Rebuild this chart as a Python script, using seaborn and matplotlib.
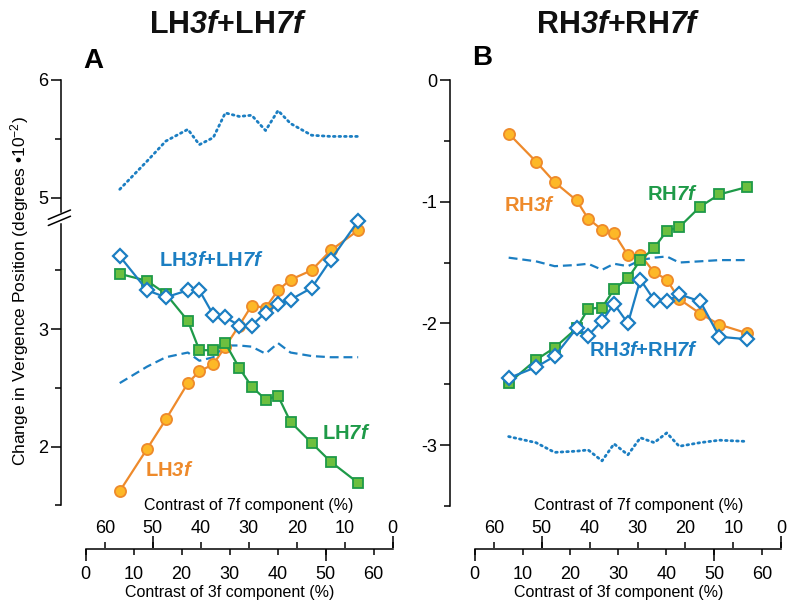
import numpy as np
import pandas as pd
import matplotlib.pyplot as plt
import seaborn as sns
from matplotlib.lines import Line2D

sns.set_style('ticks')
plt.rcParams['font.family'] = ['Liberation Sans', 'DejaVu Sans']
plt.rcParams['mathtext.fontset'] = 'custom'
plt.rcParams['mathtext.rm'] = 'Liberation Sans'
plt.rcParams['mathtext.it'] = 'Liberation Sans:italic'
plt.rcParams['mathtext.bf'] = 'Liberation Sans:bold'
plt.rcParams['mathtext.bfit'] = 'Liberation Sans:italic:bold'
for key in ['text.color', 'axes.labelcolor', 'xtick.color', 'ytick.color', 'axes.edgecolor']:
    plt.rcParams[key] = 'black'

# contrast of the 3f component (%), 7f contrast = total - 3f
contrast_3f = [7.1, 12.8, 16.7, 21.3, 23.7, 26.6, 29.1, 32.0, 34.6, 37.5, 40.1, 42.7, 47.1, 51.1, 56.8]
total_contrast = 64
ticks_3f = [0, 10, 20, 30, 40, 50, 60]
ticks_7f = [0, 10, 20, 30, 40, 50, 60]

# panel A : left hemifield
lh3f = [1.62, 1.98, 2.23, 2.54, 2.64, 2.70, 2.85, 3.03, 3.20, 3.18, 3.33, 3.42, 3.50, 3.67, 3.84]
lh7f = [3.47, 3.41, 3.30, 3.07, 2.82, 2.82, 2.88, 2.67, 2.51, 2.40, 2.43, 2.21, 2.03, 1.87, 1.69]
lh_both = [3.62, 3.33, 3.27, 3.33, 3.33, 3.12, 3.10, 3.03, 3.03, 3.14, 3.21, 3.25, 3.35, 3.59, 3.92]
lh_dashed = [2.54, 2.68, 2.76, 2.80, 2.73, 2.76, 2.86, 2.86, 2.85, 2.79, 2.88, 2.80, 2.77, 2.76, 2.76]
lh_dotted = [5.07, 5.31, 5.48, 5.58, 5.45, 5.51, 5.72, 5.69, 5.70, 5.57, 5.74, 5.63, 5.53, 5.52, 5.52]

# panel B : right hemifield
rh3f = [-0.44, -0.67, -0.84, -0.99, -1.14, -1.23, -1.26, -1.44, -1.44, -1.58, -1.64, -1.80, -1.92, -2.01, -2.08]
rh7f = [-2.49, -2.30, -2.20, -2.04, -1.88, -1.87, -1.72, -1.63, -1.48, -1.38, -1.24, -1.21, -1.04, -0.94, -0.88]
rh_both = [-2.45, -2.36, -2.27, -2.04, -2.10, -1.98, -1.84, -2.00, -1.64, -1.81, -1.82, -1.76, -1.82, -2.11, -2.13]
rh_dashed = [-1.46, -1.49, -1.53, -1.52, -1.51, -1.56, -1.51, -1.53, -1.48, -1.46, -1.45, -1.50, -1.49, -1.48, -1.48]
rh_dotted = [-2.93, -2.98, -3.06, -3.05, -3.04, -3.13, -2.99, -3.08, -2.94, -2.98, -2.90, -3.01, -2.98, -2.96, -2.97]

ORANGE = '#EE8A2B'
ORANGE_FACE = '#FDB827'
GREEN = '#1E9A48'
GREEN_FACE = '#6CBF3F'
BLUE = '#1B7EC2'

fig = plt.figure(figsize=(8, 6.1), dpi=100)

def rect(x0, y0, x1, y1):
    # pixel box -> figure fraction
    return [x0 / 800, 1 - y1 / 610, (x1 - x0) / 800, (y1 - y0) / 610]

ax_up = fig.add_axes(rect(61, 80, 392.7, 212))
ax_lo = fig.add_axes(rect(61, 224, 392.7, 548.5))
ax_r = fig.add_axes(rect(450, 80, 781.2, 548.5))


def draw_data(ax, y3, y7, yb, ydash):
    sns.lineplot(x=contrast_3f, y=ydash, ax=ax, color=BLUE, lw=1.6,
                 linestyle=(0, (4, 2.2)), clip_on=False, zorder=2)
    sns.lineplot(x=contrast_3f, y=y3, ax=ax, color=ORANGE, lw=1.6, marker='o', markersize=8,
                 markerfacecolor=ORANGE_FACE, markeredgecolor=ORANGE, markeredgewidth=1.3,
                 clip_on=False, zorder=3)
    sns.lineplot(x=contrast_3f, y=y7, ax=ax, color=GREEN, lw=1.6, marker='s', markersize=7,
                 markerfacecolor=GREEN_FACE, markeredgecolor=GREEN, markeredgewidth=1.3,
                 clip_on=False, zorder=4)
    sns.lineplot(x=contrast_3f, y=yb, ax=ax, color=BLUE, lw=1.6, marker='D', markersize=7,
                 markerfacecolor='white', markeredgecolor=BLUE, markeredgewidth=1.6,
                 clip_on=False, zorder=5)


def dotted(ax, y):
    sns.lineplot(x=contrast_3f, y=y, ax=ax, color=BLUE, lw=2.0,
                 linestyle=(0, (0.6, 1.4)), dash_capstyle='round', clip_on=False, zorder=2)


def style_y(ax, major, minor, lo, hi):
    ax.set_yticks(major)
    ax.set_yticks(minor, minor=True)
    ax.spines['left'].set_bounds(lo, hi)
    ax.spines['left'].set_linewidth(1.1)
    ax.tick_params(axis='y', which='major', length=7.5, width=1.1, pad=1.5, labelsize=13)
    ax.tick_params(axis='y', which='minor', length=4, width=1.1, left=True)
    ax.set_ylabel('')
    sns.despine(ax=ax)


def style_x(ax, label_x3, label_x7):
    ax.set_xlim(-(24.7 / 4.8), total_contrast)
    ax.set_xticks(ticks_3f)
    ax.set_xticks([0, 50], minor=True)
    ax.xaxis.remove_overlapping_locs = False
    ax.spines['bottom'].set_bounds(0, total_contrast)
    ax.spines['bottom'].set_linewidth(1.1)
    ax.tick_params(axis='x', which='major', length=4.3, width=1.1, pad=8.5, labelsize=13)
    ax.tick_params(axis='x', which='minor', length=8.6, width=1.1, bottom=True)
    ax.set_xlabel('Contrast of 3f component (%)', fontsize=11.5, labelpad=1)
    ax.xaxis.label.set_x(label_x3)

    sec = ax.secondary_xaxis(0, functions=(lambda v: total_contrast - v, lambda v: total_contrast - v))
    sec.set_alignment('top')
    sec.set_xticks(ticks_7f)
    sec.set_xticks([0, 50], minor=True)
    sec.xaxis.remove_overlapping_locs = False
    sec.spines['top'].set_visible(False)
    sec.spines['bottom'].set_visible(False)
    sec.tick_params(axis='x', which='major', length=4.3, width=1.1, pad=4, labelsize=13)
    sec.tick_params(axis='x', which='minor', length=8.6, width=1.1, top=True)
    sec.set_xlabel('Contrast of 7f component (%)', fontsize=11.5, labelpad=7.5)
    sec.xaxis.label.set_x(label_x7)


# panel A
draw_data(ax_lo, lh3f, lh7f, lh_both, lh_dashed)
dotted(ax_up, lh_dotted)
ax_lo.set_ylim(1.132, 3.894)
ax_up.set_ylim(4.877, 6.0)
style_y(ax_lo, [2, 3], [1.5, 2.5, 3.5], 1.5, 3.894)
style_y(ax_up, [5, 6], [5.5], 4.877, 6.0)
style_x(ax_lo, 0.509, 0.567)
ax_up.set_xlim(ax_lo.get_xlim())
ax_up.spines['bottom'].set_visible(False)
ax_up.tick_params(axis='x', bottom=False, labelbottom=False)
ax_up.set_xlabel('')

# axis break marks
for dy in (0, 6.2):
    fig.add_artist(Line2D([48.3 / 800, 70.5 / 800], [1 - (219.3 + dy) / 610, 1 - (210 + dy) / 610],
                          transform=fig.transFigure, color='black', lw=1.1))

# panel B
draw_data(ax_r, rh3f, rh7f, rh_both, rh_dashed)
dotted(ax_r, rh_dotted)
ax_r.set_ylim(-3.85, 0)
style_y(ax_r, [0, -1, -2, -3], [-0.5, -1.5, -2.5, -3.5], -3.5, 0)
ax_r.set_yticklabels(['0', '-1', '-2', '-3'])
style_x(ax_r, 0.510, 0.569)

# series labels
lab = dict(fontsize=14.5, ha='center', va='center')
ax_lo.text(26.3, 3.58, r'$\mathbf{LH}\mathbfit{3f}\mathbf{+LH}\mathbfit{7f}$', color=BLUE, **lab)
ax_lo.text(17.4, 1.80, r'$\mathbf{LH}\mathbfit{3f}$', color=ORANGE, **lab)
ax_lo.text(54.4, 2.115, r'$\mathbf{LH}\mathbfit{7f}$', color=GREEN, **lab)
ax_r.text(11.5, -1.035, r'$\mathbf{RH}\mathbfit{3f}$', color=ORANGE, **lab)
ax_r.text(41.2, -0.945, r'$\mathbf{RH}\mathbfit{7f}$', color=GREEN, **lab)
ax_r.text(35.2, -2.227, r'$\mathbf{RH}\mathbfit{3f}\mathbf{+RH}\mathbfit{7f}$', color=BLUE, **lab)

# titles and panel letters
fig.text(228 / 800, 1 - 25 / 610, r'$\mathbf{LH}\mathbfit{3f}\mathbf{+LH}\mathbfit{7f}$',
         fontsize=22, ha='center', va='center', color='#111111')
fig.text(618 / 800, 1 - 25 / 610, r'$\mathbf{RH}\mathbfit{3f}\mathbf{+RH}\mathbfit{7f}$',
         fontsize=22, ha='center', va='center', color='#111111')
fig.text(93.5 / 800, 1 - 60.5 / 610, 'A', fontsize=20, fontweight='bold', ha='center', va='center')
fig.text(482 / 800, 1 - 58 / 610, 'B', fontsize=20, fontweight='bold', ha='center', va='center')

fig.text(20 / 800, 1 - 291 / 610, r'Change in Vergence Position (degrees •10$^{-2}$)',
         fontsize=12.5, rotation=90, ha='center', va='center')

fig.savefig('out.png', dpi=100)
